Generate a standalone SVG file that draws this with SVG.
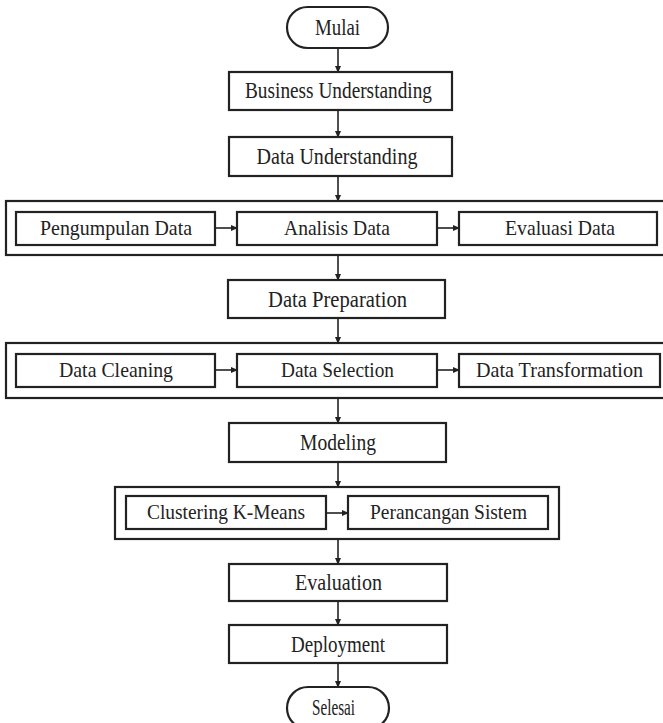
<svg xmlns="http://www.w3.org/2000/svg" width="663" height="723" viewBox="0 0 663 723">
<style>
.b{fill:#fff;stroke:#222;stroke-width:2.2}
.o{fill:none;stroke:#222;stroke-width:2.2}
.t{font-family:"Liberation Serif","Times New Roman",serif;font-size:23px;fill:#222;text-anchor:middle}
.s{font-size:22px}
.c{stroke:#222;stroke-width:1.6;fill:none;marker-end:url(#a)}
</style>
<defs>
<marker id="a" markerWidth="7" markerHeight="6" refX="6" refY="3" orient="auto" markerUnits="userSpaceOnUse">
<path d="M0,0 L7,3 L0,6 Z" fill="#222"/>
</marker>
</defs>
<rect width="663" height="723" fill="#fff"/>
<g id="containers">
<rect id="outer1" class="o" x="6" y="201" width="680" height="54"/>
<rect id="outer2" class="o" x="6" y="343" width="680" height="55"/>
<rect id="outer3" class="o" x="115" y="487" width="444" height="52"/>
</g>
<g id="connectors">
<line class="c" x1="338" y1="48" x2="338" y2="72"/>
<line class="c" x1="338" y1="110" x2="338" y2="137"/>
<line class="c" x1="338" y1="176" x2="338" y2="201"/>
<line class="c" x1="338" y1="255" x2="338" y2="280"/>
<line class="c" x1="338" y1="318" x2="338" y2="343"/>
<line class="c" x1="338" y1="398" x2="338" y2="423"/>
<line class="c" x1="338" y1="462" x2="338" y2="487"/>
<line class="c" x1="338" y1="539" x2="338" y2="564"/>
<line class="c" x1="338" y1="601" x2="338" y2="625"/>
<line class="c" x1="338" y1="663" x2="338" y2="687"/>
<line class="c" x1="215" y1="228" x2="237" y2="228"/>
<line class="c" x1="437" y1="228" x2="459" y2="228"/>
<line class="c" x1="215" y1="370" x2="237" y2="370"/>
<line class="c" x1="437" y1="370" x2="459" y2="370"/>
<line class="c" x1="326" y1="513" x2="348" y2="513"/>
</g>
<g id="mulai"><rect class="b" x="287" y="7" width="101" height="41" rx="20.5"/><text class="t" x="337.5" y="35" textLength="45" lengthAdjust="spacingAndGlyphs">Mulai</text></g>
<g id="business"><rect class="b" x="229" y="72" width="223" height="38"/><text class="t" x="338.5" y="98" textLength="187" lengthAdjust="spacingAndGlyphs">Business Understanding</text></g>
<g id="dataund"><rect class="b" x="229" y="137" width="223" height="39"/><text class="t" x="337" y="164" textLength="161" lengthAdjust="spacingAndGlyphs">Data Understanding</text></g>
<g id="pengumpulan"><rect class="b" x="16" y="212" width="199" height="33"/><text class="t s" x="116" y="235" textLength="152" lengthAdjust="spacingAndGlyphs">Pengumpulan Data</text></g>
<g id="analisis"><rect class="b" x="237" y="212" width="200" height="33"/><text class="t s" x="337" y="235" textLength="106" lengthAdjust="spacingAndGlyphs">Analisis Data</text></g>
<g id="evaluasi"><rect class="b" x="459" y="212" width="198" height="33"/><text class="t s" x="560" y="235" textLength="110" lengthAdjust="spacingAndGlyphs">Evaluasi Data</text></g>
<g id="dataprep"><rect class="b" x="228" y="280" width="217" height="38"/><text class="t" x="337.5" y="307" textLength="139" lengthAdjust="spacingAndGlyphs">Data Preparation</text></g>
<g id="cleaning"><rect class="b" x="16" y="354" width="199" height="33"/><text class="t s" x="116" y="377" textLength="114" lengthAdjust="spacingAndGlyphs">Data Cleaning</text></g>
<g id="selection"><rect class="b" x="237" y="354" width="200" height="33"/><text class="t s" x="337.5" y="377" textLength="113" lengthAdjust="spacingAndGlyphs">Data Selection</text></g>
<g id="transformation"><rect class="b" x="459" y="354" width="201" height="33"/><text class="t s" x="559.5" y="377" textLength="167" lengthAdjust="spacingAndGlyphs">Data Transformation</text></g>
<g id="modeling"><rect class="b" x="229" y="423" width="217" height="39"/><text class="t" x="338" y="450" textLength="76" lengthAdjust="spacingAndGlyphs">Modeling</text></g>
<g id="kmeans"><rect class="b" x="126" y="496" width="200" height="33"/><text class="t s" x="226" y="519" textLength="158" lengthAdjust="spacingAndGlyphs">Clustering K-Means</text></g>
<g id="perancangan"><rect class="b" x="348" y="496" width="200" height="33"/><text class="t s" x="448.5" y="519" textLength="157" lengthAdjust="spacingAndGlyphs">Perancangan Sistem</text></g>
<g id="evaluation"><rect class="b" x="229" y="564" width="218" height="37"/><text class="t" x="338.5" y="590" textLength="87" lengthAdjust="spacingAndGlyphs">Evaluation</text></g>
<g id="deployment"><rect class="b" x="229" y="625" width="218" height="38"/><text class="t" x="338" y="652" textLength="94" lengthAdjust="spacingAndGlyphs">Deployment</text></g>
<g id="selesai"><rect class="b" x="287" y="687" width="102" height="42" rx="21"/><text class="t" x="333.5" y="715" textLength="43" lengthAdjust="spacingAndGlyphs">Selesai</text></g>
</svg>
